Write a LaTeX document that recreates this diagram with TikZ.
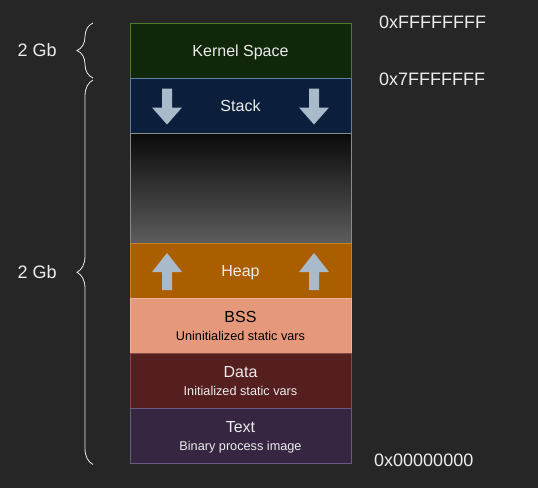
\documentclass[tikz,border=0pt]{standalone}
\usepackage{fontspec}
\setmainfont{Liberation Sans}
\usetikzlibrary{positioning,decorations.pathreplacing}

\definecolor{bgcol}{HTML}{262626}
\definecolor{kernelfill}{HTML}{10270A}
\definecolor{kernelline}{HTML}{4A7A2A}
\definecolor{stackfill}{HTML}{0B1F3C}
\definecolor{stackline}{HTML}{5F7F9F}
\definecolor{gaptop}{HTML}{0A0A0A}
\definecolor{gapbottom}{HTML}{5C5C5C}
\definecolor{gapline}{HTML}{8A8A8A}
\definecolor{heapfill}{HTML}{AB5E00}
\definecolor{heapline}{HTML}{C8802A}
\definecolor{bssfill}{HTML}{E6997A}
\definecolor{bssline}{HTML}{F2B496}
\definecolor{datafill}{HTML}{561F1F}
\definecolor{dataline}{HTML}{8A4A4A}
\definecolor{textfill}{HTML}{362642}
\definecolor{textline}{HTML}{6A5A82}
\definecolor{arrowfill}{HTML}{A9BACB}
\definecolor{lightfont}{HTML}{ECECEC}

\newcommand{\segtitle}{\fontsize{16}{18}\selectfont}
\newcommand{\segsub}{\fontsize{12.7}{17.5}\selectfont}

\begin{document}
\begin{tikzpicture}[x=1pt, y=-1pt,
    segment/.style={minimum width=221pt, minimum height=55pt, inner sep=0pt,
      outer sep=0pt, text depth=0pt, align=center, line width=0.8pt,
      text=lightfont, font=\segtitle},
    addr/.style={anchor=west, inner sep=0pt, text=lightfont,
      font=\fontsize{18}{20}\selectfont},
    sizebrace/.style={decorate, decoration={brace, amplitude=16pt},
      draw=lightfont, line width=0.8pt},
    sizelabel/.style={left=36pt, inner sep=0pt, text=lightfont,
      font=\fontsize{18}{20}\selectfont}]
  \fill[bgcol] (0,0) rectangle (538,488);
  \useasboundingbox (0,0) rectangle (538,488);

  % memory segments, top to bottom
  \node[segment, fill=kernelfill, draw=kernelline] (kernel) at (240.5,50.5) {Kernel Space};
  \node[segment, fill=stackfill, draw=stackline, below=0pt of kernel] (stack) {Stack};
  \node[segment, minimum height=110pt, top color=gaptop, bottom color=gapbottom,
    draw=gapline, below=0pt of stack] (gap) {};
  \node[segment, fill=heapfill, draw=heapline, below=0pt of gap] (heap) {Heap};
  \node[segment, fill=bssfill, draw=bssline, text=black, below=0pt of heap] (bss)
    {BSS\\\segsub Uninitialized static vars};
  \node[segment, fill=datafill, draw=dataline, below=0pt of bss] (data)
    {Data\\\segsub Initialized static vars};
  \node[segment, fill=textfill, draw=textline, below=0pt of data] (text)
    {Text\\\segsub Binary process image};

  % growth arrows
  \foreach \ax in {-73.5,73.5} {
    \fill[arrowfill] ([xshift=\ax pt]stack.center) ++(-5,-17) -- ++(10,0) -- ++(0,19)
      -- ++(10,0) -- ++(-15,17) -- ++(-15,-17) -- ++(10,0) -- cycle;
    \fill[arrowfill] ([xshift=\ax pt]heap.center) ++(-5,19.5) -- ++(10,0) -- ++(0,-18)
      -- ++(10,0) -- ++(-15,-19) -- ++(-15,19) -- ++(10,0) -- cycle;
  }

  % addresses
  \node[addr] (topaddr) at ([xshift=28pt,yshift=1pt]kernel.north east) {0xFFFFFFFF};
  \node[addr] (midaddr) at ([xshift=28pt,yshift=-1pt]stack.north east) {0x7FFFFFFF};
  \node[addr] (lowaddr) at ([xshift=23pt,yshift=3pt]text.south east) {0x00000000};

  % sizes
  \draw[sizebrace] ([xshift=-37pt]kernel.south west) -- ([xshift=-37pt]kernel.north west)
    node[sizelabel, midway] (kernelsize) {2 Gb};
  \draw[sizebrace] ([xshift=-37pt,yshift=-1.5pt]text.south west) -- ([xshift=-37pt,yshift=-2pt]stack.north west)
    node[sizelabel, midway] (usersize) {2 Gb};
\end{tikzpicture}
\end{document}
